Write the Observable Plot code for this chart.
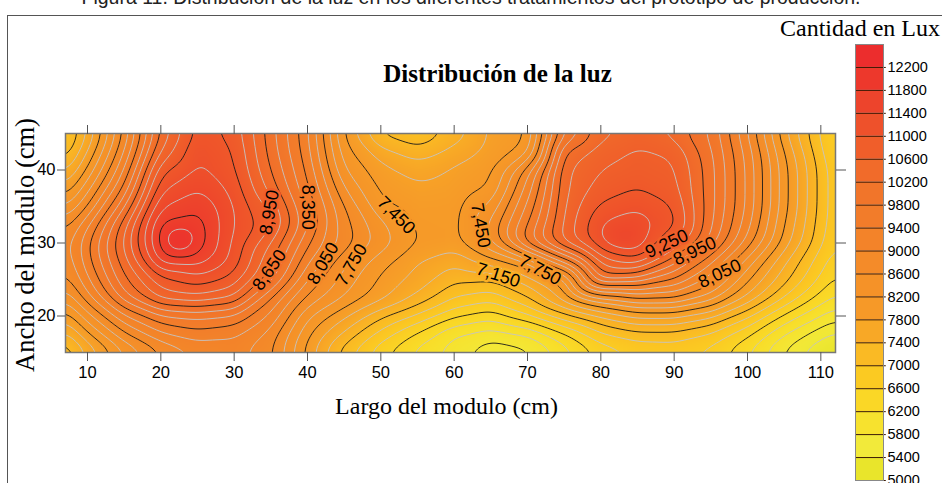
<!DOCTYPE html>
<html><head><meta charset="utf-8">
<script src="https://cdn.jsdelivr.net/npm/d3@7"></script>
<script src="https://cdn.jsdelivr.net/npm/@observablehq/plot@0.6"></script>
<style>
body{margin:0;background:#fff;}
#wrap{position:relative;width:942px;height:483px;overflow:hidden;background:#fff;}
#caption{position:absolute;left:0;width:942px;top:-14px;text-align:center;font:19.5px "Liberation Sans",Arial,sans-serif;color:#222;white-space:nowrap;}
#border{position:absolute;left:7px;top:15px;width:1000px;height:1000px;border:1.5px solid #555;}
#main{position:absolute;left:0;top:0;}
#legend{position:absolute;left:840px;top:0;}
#legtitle{position:absolute;right:2px;top:16px;font:24px/1 "Liberation Serif",serif;color:#000;white-space:nowrap;}
</style></head>
<body>
<div id="wrap">
  <div id="caption">Figura 11. Distribución de la luz en los diferentes tratamientos del prototipo de producción.</div>
  <div id="border"></div>
  <div id="main"></div>
  <div id="legend"></div>
  <div id="legtitle">Cantidad en Lux</div>
</div>
<script>
// ---- grid sample positions (cm) ----
const xs = [7, 10, 15, 20, 25, 30, 35, 40, 45, 50, 55, 60, 65, 70, 75, 80, 85, 90, 95, 100, 105, 110, 112];
const ys = [45, 42.5, 40, 37.5, 35, 32.5, 30, 27.5, 25, 22.5, 20, 17.5, 15];

// ---- light readings (lux), one row per y ----
const row45   = [6900, 7500, 8800, 10300, 11100, 10900, 10100, 9300, 7950, 7150, 7000, 7350, 7800, 7950, 9700, 10400, 10600, 10400, 9950, 9000, 7800, 6950, 6650];
const row42_5 = [7050, 7750, 9000, 10550, 11250, 11000, 10150, 9350, 8100, 7600, 7350, 7600, 7850, 8100, 10300, 10650, 10800, 10700, 10050, 9150, 8000, 7050, 6700];
const row40   = [7400, 8050, 9250, 10950, 11300, 11050, 10250, 9450, 8250, 7850, 7650, 7800, 7950, 8900, 10450, 10750, 10850, 10800, 10100, 9200, 8100, 7150, 6800];
const row37_5 = [7800, 8400, 9550, 11200, 11480, 11150, 10400, 9550, 8500, 7950, 7800, 7850, 8000, 9100, 10450, 10850, 11000, 10850, 10100, 9200, 8100, 7150, 6800];
const row35   = [8200, 8750, 9950, 11500, 11720, 11250, 10700, 9700, 8750, 8050, 7900, 7900, 8300, 9300, 10500, 11050, 11200, 11000, 10100, 9200, 8100, 7150, 6800];
const row32_5 = [8650, 9200, 10400, 11800, 11870, 11250, 10850, 9800, 8850, 8300, 7950, 7900, 8550, 9500, 10550, 11250, 11450, 11100, 10050, 9100, 8000, 7100, 6800];
const row30   = [8850, 9450, 10550, 11850, 11900, 11180, 10500, 9550, 8900, 8400, 8000, 7900, 8500, 9700, 10600, 11250, 11450, 10700, 9900, 8900, 7900, 7050, 6750];
const row27_5 = [8800, 9400, 10400, 11600, 11600, 11150, 10300, 9300, 8550, 8100, 7750, 7550, 7900, 8250, 9300, 10600, 10900, 10100, 9300, 8400, 7550, 6850, 6600];
const row25   = [8650, 9200, 10200, 10900, 11150, 10900, 10100, 9000, 8400, 7950, 7650, 7300, 7250, 7600, 8100, 10100, 9900, 9500, 8900, 8050, 7350, 6700, 6450];
const row22_5 = [8300, 8900, 9900, 10600, 10700, 10500, 9500, 8700, 8250, 7850, 7450, 7000, 6850, 7250, 7900, 8500, 8800, 8800, 8400, 7700, 7000, 6400, 6200];
const row20   = [7850, 8400, 9200, 9700, 9800, 9700, 9200, 8300, 7800, 7300, 6950, 6550, 6350, 6700, 7150, 7500, 7800, 7800, 7550, 7050, 6450, 6000, 5850];
const row17_5 = [7400, 7950, 8700, 9200, 9400, 9300, 8900, 8050, 7450, 6900, 6450, 6000, 5850, 6000, 6450, 6950, 7150, 7150, 6950, 6550, 6000, 5600, 5450];
const row15   = [7000, 7500, 8200, 8700, 9000, 9100, 8800, 7900, 7100, 6550, 6150, 5850, 5550, 5650, 6100, 6550, 6750, 6800, 6650, 6250, 5700, 5250, 5150];

// ---- the two maxima ----
const peakX = [22.5, 83];
const peakY = [30.5, 30.8];
const peakLux = [12450, 11700];

// ---- contour levels ----
const grayLevels = [5250, 5500, 6000, 6250, 6750, 7000, 7500, 7750, 8250, 8500, 9000, 9250, 9750, 10000, 10500, 10750, 11250, 11500, 12000, 12250];
const blackLevels = [5750, 6500, 7250, 8000, 8750, 9500, 10250, 11000, 11750];

// ---- contour labels as printed ----
const labelText  = ["8,950", "8,350", "8,650", "8,050", "7,750", "7,450", "7,450", "7,750", "7,150", "9,250", "8,950", "8,050"];
const labelX     = [34.8, 40.0, 34.8, 42.1, 46.0, 52.1, 63.6, 71.7, 66.0, 89.0, 92.8, 96.2];
const labelY     = [34.2, 34.9, 26.3, 27.2, 27.0, 33.8, 32.4, 26.3, 25.6, 29.9, 28.9, 25.8];
const labelAngle = [-80, 90, -55, -60, -60, 45, 80, 28, 18, -25, -25, -25];

// ---- axis ticks & colour bar ----
const xTicks = [10, 20, 30, 40, 50, 60, 70, 80, 90, 100, 110];
const yTicks = [20, 30, 40];
const barTicks = [5000, 5400, 5800, 6200, 6600, 7000, 7400, 7800, 8200, 8600, 9000, 9400, 9800, 10200, 10600, 11000, 11400, 11800, 12200];
const barTop = 12600;

// colour ramp
const stopValues = [5000, 5600, 6200, 6800, 7250, 7900, 9000, 9500, 10250, 11000, 11750, 12600];
const stopColors = ["rgb(228,226,36)", "rgb(242,234,58)", "rgb(249,222,40)", "rgb(251,202,34)", "rgb(250,184,36)",
  "rgb(246,155,40)", "rgb(243,135,41)", "rgb(242,126,42)", "rgb(241,112,42)", "rgb(239,88,42)", "rgb(237,63,44)", "rgb(236,40,45)"];
const colorScale = {type: "linear", domain: stopValues, range: stopColors, interpolate: "rgb", clamp: true};

const grid = [row45, row42_5, row40, row37_5, row35, row32_5, row30, row27_5, row25, row22_5, row20, row17_5, row15];
const points = [];
grid.forEach((row, j) => row.forEach((v, i) => points.push({x: xs[i], y: ys[j], v})));
peakX.forEach((px, k) => points.push({x: px, y: peakY[k], v: peakLux[k]}));

// local reading under each label (bilinear on the sample grid) -> colour of the label's knock-out halo
function localLux(x, y) {
  let i = d3.bisectRight(xs, x) - 1; i = Math.max(0, Math.min(xs.length - 2, i));
  let j = 0; while (j < ys.length - 2 && ys[j + 1] > y) j++;
  const tx = (x - xs[i]) / (xs[i + 1] - xs[i]);
  const ty = (ys[j] - y) / (ys[j] - ys[j + 1]);
  const a = grid[j][i], b = grid[j][i + 1], c = grid[j + 1][i], d = grid[j + 1][i + 1];
  return (a * (1 - tx) + b * tx) * (1 - ty) + (c * (1 - tx) + d * tx) * ty;
}
const labels = labelText.map((t, i) => ({t, x: labelX[i], y: labelY[i], a: labelAngle[i], v: localLux(labelX[i], labelY[i])}));
const surface = {x: "x", y: "y", interpolate: "barycentric", pixelSize: 1, blur: 7};

const main = Plot.plot({
  width: 942, height: 483,
  marginLeft: 65, marginRight: 107, marginTop: 133, marginBottom: 131,
  style: {fontFamily: "'Liberation Sans', Arial, sans-serif", background: "transparent", overflow: "visible"},
  x: {domain: [7, 112]},
  y: {domain: [15, 45]},
  color: colorScale,
  marks: [
    Plot.raster(points, {...surface, fill: "v"}),
    Plot.contour(points, {...surface, value: "v", thresholds: grayLevels, fill: "none", stroke: "#c4c4c4", strokeWidth: 0.9}),
    Plot.contour(points, {...surface, value: "v", thresholds: blackLevels, fill: "none", stroke: "#1a1a1a", strokeWidth: 0.9}),
    Plot.text(labels, {x: "x", y: "y", text: "t", rotate: "a", fontSize: 18, fill: "#000",
      stroke: "v", strokeWidth: 5, paintOrder: "stroke", textAnchor: "middle", lineAnchor: "middle"}),
    Plot.frame({stroke: "#777", strokeWidth: 1.5}),
    Plot.axisX({anchor: "bottom", ticks: xTicks, tickSize: 9, tickPadding: 5, fontSize: 16.5, label: null, stroke: "#555"}),
    Plot.axisX({anchor: "top", ticks: xTicks, tickSize: 9, tickFormat: () => "", label: null, stroke: "#555"}),
    Plot.axisY({anchor: "left", ticks: yTicks, tickSize: 8, tickPadding: 2, fontSize: 16.5, label: null, stroke: "#555"}),
    Plot.axisY({anchor: "right", ticks: yTicks, tickSize: 10, tickFormat: () => "", label: null, stroke: "#555"}),
    Plot.text(["Largo del modulo (cm)"], {frameAnchor: "bottom", dy: 54, dx: -4, fontFamily: "'Liberation Serif', serif",
      fontSize: 24, textAnchor: "middle", lineAnchor: "middle", fill: "#000"}),
    Plot.text(["Ancho del modulo (cm)"], {frameAnchor: "left", dx: -40, dy: 2, rotate: -90, fontFamily: "'Liberation Serif', serif",
      fontSize: 26.5, textAnchor: "middle", lineAnchor: "middle", fill: "#000"}),
    Plot.text(["Distribución de la luz"], {frameAnchor: "top", dy: -60, dx: 47, fontFamily: "'Liberation Serif', serif",
      fontWeight: "bold", fontSize: 25, textAnchor: "middle", lineAnchor: "middle", fill: "#000"})
  ]
});
document.getElementById("main").appendChild(main);

const bands = barTicks.map((lo, i) => ({lo, hi: i + 1 < barTicks.length ? barTicks[i + 1] : barTop}));
bands.forEach(b => b.mid = (b.lo + b.hi) / 2);

const legend = Plot.plot({
  width: 102, height: 483,
  marginLeft: 15, marginRight: 59, marginTop: 44, marginBottom: 3,
  style: {fontFamily: "'Liberation Sans', Arial, sans-serif", background: "transparent", overflow: "visible"},
  x: {domain: [0, 1], axis: null},
  y: {domain: [5000, barTop], axis: null},
  color: colorScale,
  marks: [
    Plot.rect(bands, {x1: 0, x2: 1, y1: "lo", y2: "hi", fill: "mid"}),
    Plot.ruleY(barTicks, {x1: 0, x2: 1.1, stroke: "#3b1a05", strokeWidth: 1}),
    Plot.frame({stroke: "#888", strokeWidth: 1}),
    Plot.axisY({anchor: "right", ticks: barTicks, tickSize: 0, tickPadding: 4, fontSize: 14.5, label: null,
      tickFormat: d => String(d)})
  ]
});
document.getElementById("legend").appendChild(legend);
</script>
</body></html>
